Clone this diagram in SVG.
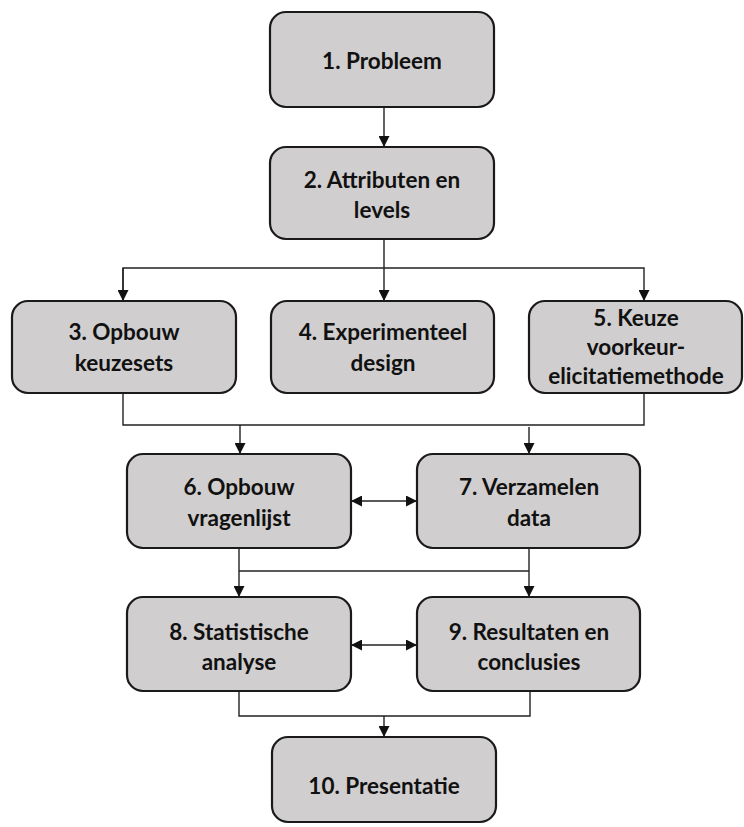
<svg xmlns="http://www.w3.org/2000/svg" width="744" height="827" viewBox="0 0 744 827">
<style>
.box{fill:#d0cece;stroke:#1a1a1a;stroke-width:2.2}
.t{font-family:Lato,"Liberation Sans",sans-serif;font-weight:bold;font-size:22.5px;fill:#111;text-anchor:middle;dominant-baseline:central}
.c{fill:none;stroke:#222;stroke-width:1.4}
</style>
<defs>
<marker id="a" viewBox="0 0 10 10" refX="10" refY="5" markerWidth="11" markerHeight="11" markerUnits="userSpaceOnUse" orient="auto-start-reverse">
<path d="M0,0 L10,5 L0,10 Z" fill="#111"/>
</marker>
</defs>
<rect width="744" height="827" fill="#fff"/>
<g id="connectors">
<path class="c" d="M384,107 V147" marker-end="url(#a)"/>
<path class="c" d="M384,239 V301" marker-end="url(#a)"/>
<path class="c" d="M123,301 V268 H644 V301" marker-end="url(#a)"/>
<path class="c" d="M123,268 V301" marker-end="url(#a)"/>
<path class="c" d="M123,393 V425 H644 V393"/>
<path class="c" d="M240,425 V454" marker-end="url(#a)"/>
<path class="c" d="M529,427 V454" marker-end="url(#a)"/>
<path class="c" d="M351,501 H417" marker-start="url(#a)" marker-end="url(#a)"/>
<path class="c" d="M239,548 V597" marker-end="url(#a)"/>
<path class="c" d="M529,548 V597" marker-end="url(#a)"/>
<path class="c" d="M239,571 H529"/>
<path class="c" d="M351,645 H417" marker-start="url(#a)" marker-end="url(#a)"/>
<path class="c" d="M239,691 V716 H530 V691"/>
<path class="c" d="M384,716 V737" marker-end="url(#a)"/>
</g>
<g id="n1"><rect class="box" x="270" y="12" width="224" height="95" rx="16"/><text class="t" x="382" y="60">1. Probleem</text></g>
<g id="n2"><rect class="box" x="270" y="147" width="224" height="92" rx="16"/><text class="t" x="382" y="179">2. Attributen en</text><text class="t" x="382" y="209">levels</text></g>
<g id="n3"><rect class="box" x="12" y="301" width="224" height="92" rx="16"/><text class="t" x="124" y="331">3. Opbouw</text><text class="t" x="124" y="362">keuzesets</text></g>
<g id="n4"><rect class="box" x="271" y="301" width="223" height="92" rx="16"/><text class="t" x="383" y="331">4. Experimenteel</text><text class="t" x="383" y="362">design</text></g>
<g id="n5"><rect class="box" x="529" y="301" width="213" height="92" rx="16"/><text class="t" x="636" y="317">5. Keuze</text><text class="t" x="636" y="346">voorkeur-</text><text class="t" x="636" y="375">elicitatiemethode</text></g>
<g id="n6"><rect class="box" x="127" y="454" width="224" height="94" rx="16"/><text class="t" x="239" y="486">6. Opbouw</text><text class="t" x="239" y="517">vragenlijst</text></g>
<g id="n7"><rect class="box" x="417" y="454" width="223" height="94" rx="16"/><text class="t" x="529" y="486">7. Verzamelen</text><text class="t" x="529" y="517">data</text></g>
<g id="n8"><rect class="box" x="127" y="597" width="224" height="94" rx="16"/><text class="t" x="239" y="631">8. Statistische</text><text class="t" x="239" y="661">analyse</text></g>
<g id="n9"><rect class="box" x="417" y="597" width="223" height="94" rx="16"/><text class="t" x="529" y="631">9. Resultaten en</text><text class="t" x="529" y="661">conclusies</text></g>
<g id="n10"><rect class="box" x="272" y="737" width="224" height="85" rx="16"/><text class="t" x="384" y="785">10. Presentatie</text></g>
</svg>
